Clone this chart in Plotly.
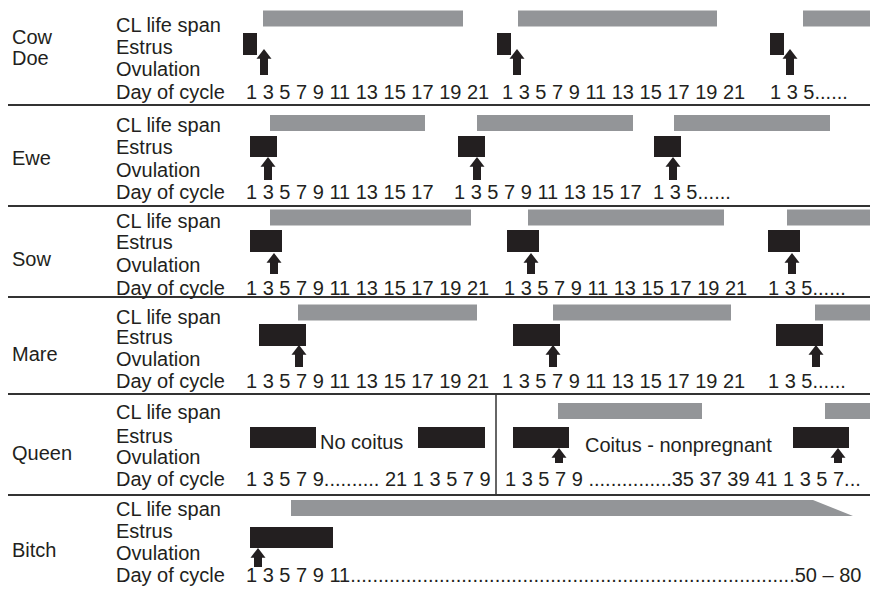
import plotly.graph_objects as go

# ---- data (x in timeline units of the diagram) ----
species = ["Cow", "Ewe", "Sow", "Mare", "Queen", "Bitch"]
row_labels = ["CL life span", "Estrus", "Ovulation", "Day of cycle"]

cl_start = {
    "Cow": [263, 518, 803], "Ewe": [270, 477, 674], "Sow": [270, 528, 787],
    "Mare": [298, 553, 815], "Queen": [558, 825],
}
cl_end = {
    "Cow": [463, 717, 886], "Ewe": [425, 633, 830], "Sow": [471, 724, 886],
    "Mare": [477, 731, 886], "Queen": [702, 886],
}
# bitch CL is one long tapered span
bitch_cl = [291, 813, 853]

estrus_start = {
    "Cow": [243, 497, 770], "Ewe": [250, 458, 654], "Sow": [250, 507, 768],
    "Mare": [259, 513, 776], "Queen": [250, 418, 513, 793], "Bitch": [250],
}
estrus_end = {
    "Cow": [257, 511, 784], "Ewe": [277, 485, 681], "Sow": [282, 539, 800],
    "Mare": [306, 560, 823], "Queen": [316, 485, 569, 849], "Bitch": [333],
}
ovulation = {
    "Cow": [264, 517, 790], "Ewe": [268, 477, 673], "Sow": [274, 531, 792],
    "Mare": [299, 553, 816], "Queen": [559, 838], "Bitch": [258],
}

day_ticks = {
    "Cow": ["1 3 5 7 9 11 13 15 17 19 21", "1 3 5 7 9 11 13 15 17 19 21", "1 3 5......"],
    "Ewe": ["1 3 5 7 9 11 13 15 17", "1 3 5 7 9 11 13 15 17", "1 3 5......"],
    "Sow": ["1 3 5 7 9 11 13 15 17 19 21", "1 3 5 7 9 11 13 15 17 19 21", "1 3 5......"],
    "Mare": ["1 3 5 7 9 11 13 15 17 19 21", "1 3 5 7 9 11 13 15 17 19 21", "1 3 5......"],
    "Queen": ["1 3 5 7 9.......... 21 1 3 5 7 9",
              "1 3 5 7 9 ...............35 37 39 41 1 3 5 7..."],
    "Bitch": ["1 3 5 7 9 11" + "." * 80 + "50 \u2013 80"],
}
queen_notes = ["No coitus", "Coitus - nonpregnant"]

# ---- layout of the panels (pixel rows) ----
panels = {
    "Cow":   dict(name=["Cow", "Doe"], name_y=[37, 58], rows=[25, 47, 69, 92],
                  cl_y=18.5, es_y=44, es_h=22, tip=49, bot=75,
                  day_x=[244, 500, 768]),
    "Ewe":   dict(name=["Ewe"], name_y=[158], rows=[125, 147, 170, 192],
                  cl_y=123, es_y=146.5, es_h=21, tip=157, bot=180,
                  day_x=[244, 452, 651]),
    "Sow":   dict(name=["Sow"], name_y=[259], rows=[221, 242, 265, 288],
                  cl_y=217.5, es_y=241, es_h=22, tip=253, bot=274,
                  day_x=[244, 502, 766]),
    "Mare":  dict(name=["Mare"], name_y=[354], rows=[317, 337, 359, 381],
                  cl_y=312.5, es_y=335, es_h=22, tip=345, bot=367,
                  day_x=[244, 500, 766]),
    "Queen": dict(name=["Queen"], name_y=[453], rows=[412, 436, 457, 479],
                  cl_y=411, es_y=437.5, es_h=21, tip=448, bot=463,
                  day_x=[244, 503]),
    "Bitch": dict(name=["Bitch"], name_y=[550], rows=[509, 531, 553, 575],
                  cl_y=508, es_y=537.5, es_h=21, tip=548, bot=567,
                  day_x=[244]),
}
separators = [105, 206, 297, 394, 495]

GRAY = "#939598"
BLACK = "#231f20"
FONT = dict(family="Liberation Sans, Arial, sans-serif", size=20, color=BLACK)

# the page body has an 8px margin: shift the ranges so units match page pixels
OFF = 8

fig = go.Figure()
ann = []

for sp in species:
    p = panels[sp]
    # CL life span bars
    if sp in cl_start:
        fig.add_trace(go.Bar(
            orientation="h", base=cl_start[sp],
            x=[e - s for s, e in zip(cl_start[sp], cl_end[sp])],
            y=[p["cl_y"]] * len(cl_start[sp]), width=16,
            marker=dict(color=GRAY, line=dict(width=0)), hoverinfo="skip"))
    # estrus bars
    fig.add_trace(go.Bar(
        orientation="h", base=estrus_start[sp],
        x=[e - s for s, e in zip(estrus_start[sp], estrus_end[sp])],
        y=[p["es_y"]] * len(estrus_start[sp]), width=p["es_h"],
        marker=dict(color=BLACK, line=dict(width=0)), hoverinfo="skip"))
    # ovulation arrows: shaft + head
    for ov in ovulation[sp]:
        fig.add_trace(go.Scatter(
            x=[ov, ov], y=[p["tip"] + 8, p["bot"]], mode="lines",
            line=dict(color=BLACK, width=8), hoverinfo="skip"))
    fig.add_trace(go.Scatter(
        x=ovulation[sp], y=[p["tip"] + 6.5] * len(ovulation[sp]), mode="markers",
        marker=dict(symbol="triangle-up", size=13, color=BLACK, line=dict(width=0)),
        hoverinfo="skip"))

    # texts
    for nm, ny in zip(p["name"], p["name_y"]):
        ann.append(dict(x=10, y=ny, text=nm))
    for lab, ry in zip(row_labels, p["rows"]):
        ann.append(dict(x=114, y=ry, text=lab))
    for txt, dx in zip(day_ticks[sp], p["day_x"]):
        ann.append(dict(x=dx, y=p["rows"][3], text=txt))

# bitch: tapered CL span
bp = panels["Bitch"]
fig.add_trace(go.Scatter(
    x=[bitch_cl[0], bitch_cl[1], bitch_cl[2], bitch_cl[0], bitch_cl[0]],
    y=[bp["cl_y"] - 8, bp["cl_y"] - 8, bp["cl_y"] + 8, bp["cl_y"] + 8, bp["cl_y"] - 8],
    mode="lines", fill="toself", fillcolor=GRAY, line=dict(width=0),
    hoverinfo="skip"))

# queen notes
ann.append(dict(x=318, y=442, text=queen_notes[0]))
ann.append(dict(x=583, y=445, text=queen_notes[1]))

for a in ann:
    a.update(xref="x", yref="y", xanchor="left", yanchor="middle",
             showarrow=False, font=FONT)

shapes = [dict(type="line", xref="x", yref="y", x0=0, x1=886, y0=s, y1=s,
               line=dict(color="#333333", width=2)) for s in separators]
shapes.append(dict(type="line", xref="x", yref="y", x0=496, x1=496, y0=394, y1=495,
                   line=dict(color="#333333", width=1.5)))

fig.update_layout(
    width=878, height=592, margin=dict(l=0, r=0, t=0, b=0),
    paper_bgcolor="white", plot_bgcolor="white", showlegend=False,
    barmode="overlay", annotations=ann, shapes=shapes,
    xaxis=dict(range=[OFF, 878 + OFF], visible=False, fixedrange=True),
    yaxis=dict(range=[592 + OFF, OFF], visible=False, fixedrange=True),
)

fig.write_html("out.html")
